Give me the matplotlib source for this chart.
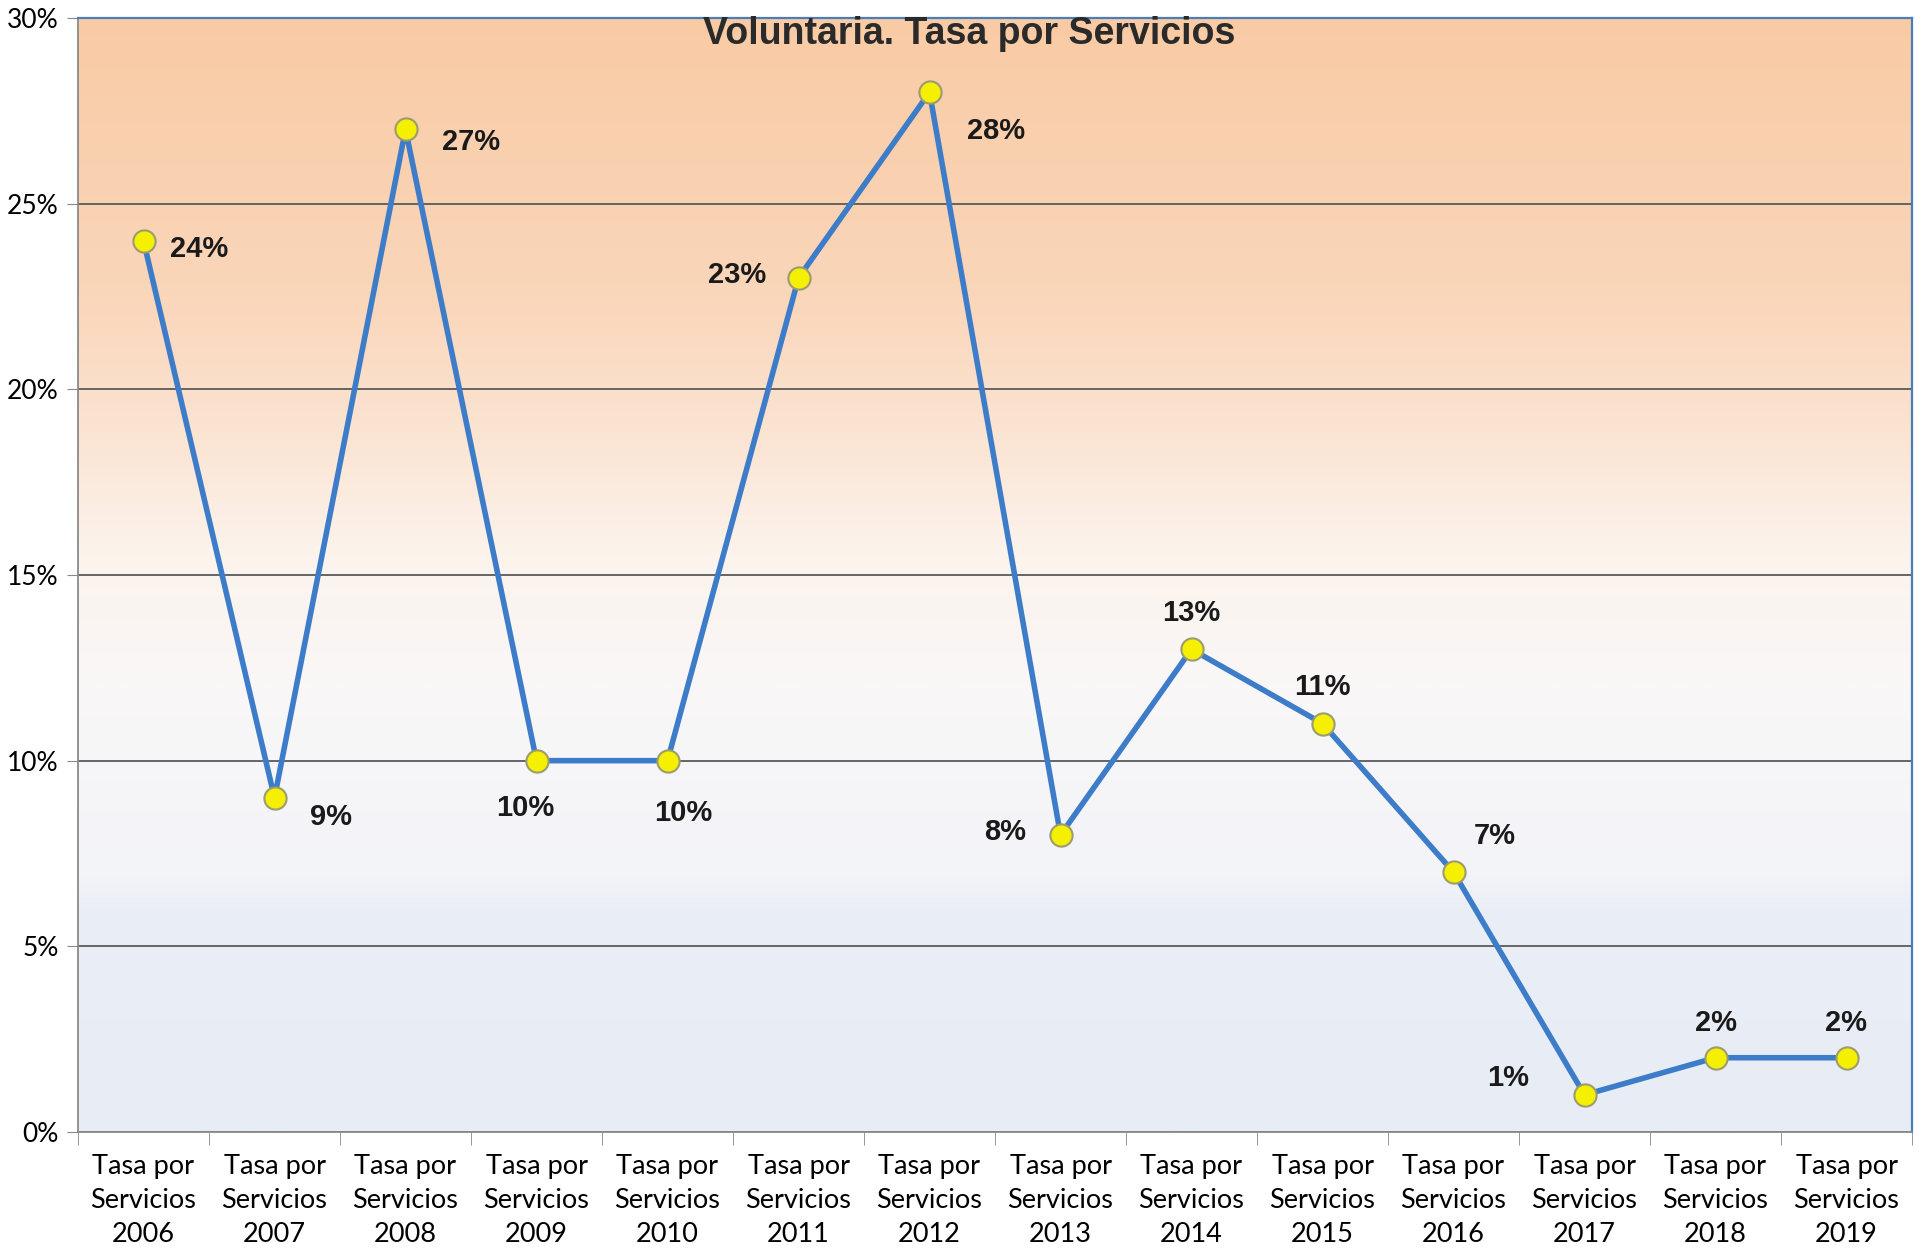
import numpy as np
import matplotlib
matplotlib.use("Agg")
import matplotlib.pyplot as plt
from matplotlib.colors import LinearSegmentedColormap

years = ["2006", "2007", "2008", "2009", "2010", "2011", "2012",
         "2013", "2014", "2015", "2016", "2017", "2018", "2019"]
rates = [24, 9, 27, 10, 10, 23, 28, 8, 13, 11, 7, 1, 2, 2]
# label offsets (points) relative to each marker
label_dx = [40, 41, 47, -8, 11, -44, 48, -40, 0, 0, 30, -55, 0, 0]
label_dy = [-6, -14, -9, -34, -38, 2, -28, 2, 26, 26, 26, 12, 25, 25]
yticks = [0, 5, 10, 15, 20, 25, 30]

fig = plt.figure(figsize=(19.2, 12.55), dpi=100)
ax = fig.add_axes([78 / 1920, 1 - 1132 / 1255, (1912 - 78) / 1920, (1132 - 18) / 1255])

x = np.arange(len(years))
ax.set_xlim(-0.5, len(years) - 0.5)
ax.set_ylim(0, 30)

# background gradient (top orange -> white -> light blue)
stops = [(0.0, "#E8ECF5"), (0.2, "#EAEEF6"), (0.23, "#F3F4F9"),
         (0.40, "#F9F7F7"), (0.52, "#FCF3EC"), (0.62, "#FBE5D4"),
         (0.75, "#FAD6BA"), (1.0, "#F9CBA5")]
cmap = LinearSegmentedColormap.from_list("bg", stops)
grad = np.linspace(0, 1, 512).reshape(-1, 1)
ax.imshow(grad, cmap=cmap, aspect="auto", origin="lower",
          extent=(-0.5, len(years) - 0.5, 0, 30), zorder=0)

ax.set_yticks(yticks)
ax.set_yticklabels([f"{v}%" for v in yticks], fontsize=19, family="Lato")
ax.yaxis.grid(True, color="#5a5a5a", lw=1.3, zorder=1)
ax.tick_params(axis="y", length=8, color="#888888", pad=6)

ax.set_xticks(x)
ax.set_xticklabels([f"Tasa por\nServicios\n{y}" for y in years],
                   fontsize=19.5, family="Lato", linespacing=1.45)
ax.set_xticks(np.arange(len(years) + 1) - 0.5, minor=True)
ax.tick_params(axis="x", which="major", length=0, pad=16)
ax.tick_params(axis="x", which="minor", length=9, color="#888888")

for s in ["left", "bottom"]:
    ax.spines[s].set_color("#8a8a8a")
    ax.spines[s].set_linewidth(1.3)
for s in ["top", "right"]:
    ax.spines[s].set_color("#4a7ebb")
    ax.spines[s].set_linewidth(1.6)

ax.plot(x, rates, color="#3d7cc9", lw=4, zorder=3,
        marker="o", markersize=16, markerfacecolor="#f5f000",
        markeredgecolor="#9c9c70", markeredgewidth=1.5)

for xi, v, dx, dy in zip(x, rates, label_dx, label_dy):
    ax.annotate(f"{v}%", (xi, v), xytext=(dx, dy), textcoords="offset points",
                ha="center", va="center", fontsize=21, fontweight="bold",
                family="Liberation Sans", color="#1a1a1a", zorder=4)

ax.text(0.486, 0.986, "Voluntaria. Tasa por Servicios", transform=ax.transAxes,
        ha="center", va="center", fontsize=27, fontweight="bold",
        family="Liberation Sans", color="#2a2a2a", zorder=4)

fig.savefig("out.png", dpi=100)
